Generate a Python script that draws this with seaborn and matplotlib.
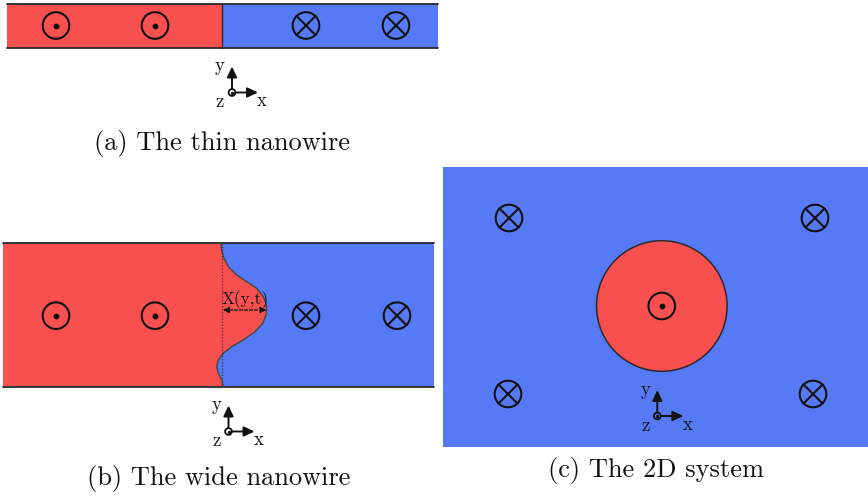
import matplotlib
matplotlib.use("Agg")
import numpy as np
import matplotlib.pyplot as plt
import seaborn as sns
from matplotlib.patches import Rectangle, Circle, Polygon

sns.set_theme(style="white")
plt.rcParams["font.family"] = ["cmr10", "DejaVu Serif"]
plt.rcParams["axes.formatter.use_mathtext"] = True

RED = "#F84F4F"
BLUE = "#5679F6"
INK = "#111111"
EDGE = "#2a2a2a"

captions = ["(a) The thin nanowire", "(b) The wide nanowire", "(c) The 2D system"]
wall_label = "X(y,t)"
axis_names = ["x", "y", "z"]

# out-of-plane (dot) and into-plane (cross) magnetisation symbols, pixel frame
thin_up_x = [56, 155]
thin_down_x = [306, 396]
wide_up_x = [56, 155]
wide_down_x = [306, 397]
disk_down_x = [509, 815, 508, 813]
disk_down_y = [218, 218, 394, 394]

# domain-wall profile across the wide wire
wall_y = [243.3, 250.0, 256.7, 266.7, 275.0, 281.7, 288.3, 296.7, 303.3, 308.3,
          315.0, 323.3, 331.7, 340.0, 346.7, 353.3, 360.0, 366.7, 373.3, 380.0, 386.7]
wall_x = [220.7, 221.7, 223.3, 228.3, 236.7, 246.7, 256.7, 263.3, 266.0, 266.7,
          266.0, 262.7, 255.0, 243.3, 231.7, 223.3, 218.3, 216.7, 218.3, 221.7, 223.3]

fig = plt.figure(figsize=(8.68, 4.98), dpi=100)
ax = fig.add_axes([0, 0, 1, 1])
ax.set_xlim(0, 868)
ax.set_ylim(498, 0)
ax.axis("off")

R_SYM = 13.3
CAP_SIZE = 19
AX_LABEL_SIZE = 13.5


def dot_symbol(x, y):
    ax.add_patch(Circle((x, y), R_SYM, fill=False, ec=INK, lw=1.5, zorder=5))
    ax.plot([x], [y], "o", color=INK, ms=3.2, zorder=6)


def cross_symbol(x, y):
    ax.add_patch(Circle((x, y), R_SYM, fill=False, ec=INK, lw=1.5, zorder=5))
    d = R_SYM / np.sqrt(2)
    ax.plot([x - d, x + d], [y - d, y + d], color=INK, lw=1.5, zorder=5)
    ax.plot([x - d, x + d], [y + d, y - d], color=INK, lw=1.5, zorder=5)


def triad(x0, y0, L=26):
    r = 3.4
    props = dict(arrowstyle="-|>,head_length=0.7,head_width=0.33", lw=1.4,
                 color=INK, shrinkA=0, shrinkB=0, mutation_scale=9)
    ax.annotate("", xy=(x0, y0 - L), xytext=(x0, y0 - r), arrowprops=props, zorder=6)
    ax.annotate("", xy=(x0 + L, y0), xytext=(x0 + r, y0), arrowprops=props, zorder=6)
    ax.add_patch(Circle((x0, y0), r, fill=False, ec=INK, lw=1.3, zorder=6))
    ax.plot([x0], [y0], "o", color=INK, ms=1.4, zorder=7)
    kw = dict(fontsize=AX_LABEL_SIZE, ha="center", va="center", color=INK, zorder=7)
    ax.text(x0 + 30, y0 + 9, axis_names[0], **kw)
    ax.text(x0 - 12, y0 - 26, axis_names[1], **kw)
    ax.text(x0 - 12, y0 + 10, axis_names[2], **kw)


# (a) thin nanowire
ax.add_patch(Rectangle((7, 4), 215, 44, fc=RED, ec="none"))
ax.add_patch(Rectangle((222, 4), 216, 44, fc=BLUE, ec="none"))
ax.plot([222, 222], [4, 48], color=EDGE, lw=1.0)
for yy in (4, 48):
    ax.plot([7, 438], [yy, yy], color=EDGE, lw=1.3)
for x in thin_up_x:
    dot_symbol(x, 25.5)
for x in thin_down_x:
    cross_symbol(x, 25.5)
triad(232, 92.5)
ax.text(222.5, 143, captions[0], fontsize=CAP_SIZE, ha="center", va="center", color=INK)

# (b) wide nanowire with a curved domain wall
ax.add_patch(Rectangle((3, 243.3), 431, 143.4, fc=BLUE, ec="none"))
red_outline = [(3, 243.3)] + list(zip(wall_x, wall_y)) + [(3, 386.7)]
ax.add_patch(Polygon(red_outline, closed=True, fc=RED, ec="none"))
sns.lineplot(x=wall_x, y=wall_y, orient="y", sort=False, ax=ax,
             color="#4a4a4a", lw=1.1, zorder=4)
ax.plot([222.3, 222.3], [243.3, 386.7], color="#333333", lw=0.9, ls=(0, (1, 1.5)), zorder=4)
for yy in (243.3, 386.7):
    ax.plot([3, 434], [yy, yy], color=EDGE, lw=1.3)
ax.annotate("", xy=(266.5, 310), xytext=(223, 310),
            arrowprops=dict(arrowstyle="<|-|>,head_length=0.6,head_width=0.3", lw=0.9,
                            ls=(0, (2.5, 1.5)), color=INK, shrinkA=0, shrinkB=0,
                            mutation_scale=6), zorder=6)
ax.text(245, 299.5, wall_label, fontsize=12.4, ha="center", va="center", color=INK, zorder=7)
for x in wide_up_x:
    dot_symbol(x, 315.7)
for x in wide_down_x:
    cross_symbol(x, 315.7)
triad(228.5, 431.5)
ax.text(218.5, 478, captions[1], fontsize=CAP_SIZE, ha="center", va="center", color=INK)

# (c) 2D system with a circular domain
ax.add_patch(Rectangle((443, 167), 425, 280, fc=BLUE, ec="none"))
ax.add_patch(Circle((661.8, 306), 65.3, fc=RED, ec=EDGE, lw=1.1, zorder=3))
dot_symbol(661.8, 306)
for x, y in zip(disk_down_x, disk_down_y):
    cross_symbol(x, y)
triad(657.3, 416)
ax.text(656, 470, captions[2], fontsize=CAP_SIZE, ha="center", va="center", color=INK)

ax.set_xlim(0, 868)
ax.set_ylim(498, 0)
ax.set_xlabel("")
ax.set_ylabel("")
fig.savefig("out.png", dpi=100)
